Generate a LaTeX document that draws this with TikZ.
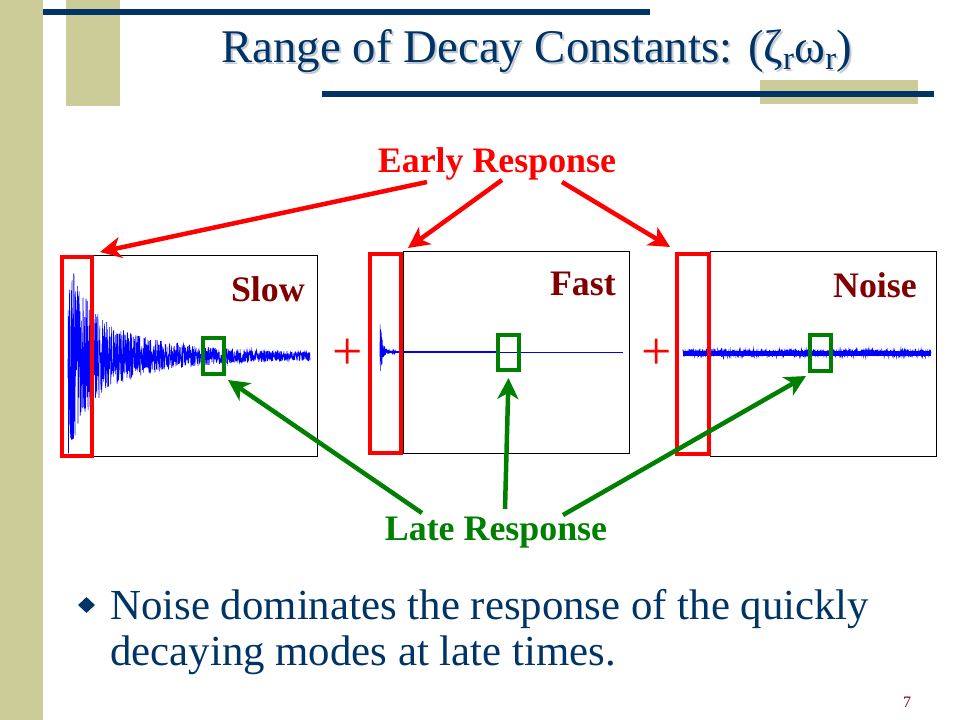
\documentclass[tikz,border=0pt]{standalone}
\usepackage{fontspec}
\setmainfont{Liberation Serif}
\usetikzlibrary{arrows.meta,shapes.geometric}
\definecolor{navy}{HTML}{003366}
\definecolor{khaki}{HTML}{CCCC99}
\definecolor{wine}{HTML}{800000}
\definecolor{leaf}{HTML}{008000}
\definecolor{shade}{HTML}{C4CAD4}
\begin{document}
\begin{tikzpicture}[x=1bp,y=-1bp,
	frame/.style={draw=black,line width=0.9bp,inner sep=0pt,outer sep=0pt,anchor=north west},
	earlybox/.style={draw=red,line width=4bp,inner sep=0pt,outer sep=0pt,anchor=north west},
	latebox/.style={draw=leaf,line width=4bp,inner sep=0pt,outer sep=0pt,anchor=north west},
	redarrow/.style={draw=red,line width=4.5bp,-{Stealth[length=21bp,width=21bp,inset=6bp]}},
	greenarrow/.style={draw=leaf,line width=4.5bp,-{Stealth[length=21bp,width=21bp,inset=6bp]}},
	signal/.style={draw=blue,line width=0.6bp},
	heading/.style={font=\fontsize{36}{40}\selectfont\bfseries,inner sep=0pt},
	tag/.style={font=\fontsize{36}{40}\selectfont\bfseries,text=wine,inner sep=0pt},
	plus/.style={font=\fontsize{54}{60}\selectfont,text=red,inner sep=0pt}]
	\useasboundingbox (0,0) rectangle (960,720);
	\fill[white] (0,0) rectangle (960,720);
	
	% slide decoration
	\fill[khaki] (0,0) rectangle (43,720);
	\fill[khaki] (66,0) rectangle (120,106);
	\fill[khaki] (760,80) rectangle (918,104);
	\fill[navy] (43,9) rectangle (650,15);
	\fill[navy] (322,91) rectangle (934,97);
	\node[font=\fontsize{47}{52}\selectfont,text=shade,anchor=base] at (539,65)
		{Range of Decay Constants: (ζ\textsubscript{r}ω\textsubscript{r})};
	\node[font=\fontsize{47}{52}\selectfont,text=navy,anchor=base] (title) at (537,63)
		{Range of Decay Constants: (ζ\textsubscript{r}ω\textsubscript{r})};
	
	% the three records
	\node[frame,minimum width=225bp,minimum height=201bp] (slowplot) at (92,255) {};
	\node[frame,minimum width=226bp,minimum height=202bp] (fastplot) at (403,251) {};
	\node[frame,minimum width=226bp,minimum height=205bp] (noiseplot) at (710,251) {};
	
	\pgfmathsetseed{7}
	\draw[signal] plot[domain=68:310,samples=1400]
		(\x,{356+(3+52*exp(-(\x-68)/18)+46*exp(-(\x-68)/70))*rand});
	\draw[signal] plot[domain=380:396,samples=160]
		(\x,{352+(0.6+32*exp(-(\x-380)/2.5))*rand});
	\draw[blue,line width=1.5bp] (395,352) -- (500,352);
	\draw[blue,line width=1bp] (500,352) -- (623,352);
	\fill[blue] (683,350.5) rectangle (931,355.5);
	\draw[signal,line width=0.8bp] plot[domain=683:931,samples=700]
		(\x,{353+3.6*rand});
	
	\node[tag,anchor=base east] (slow) at (305,301) {Slow};
	\node[tag,anchor=base east] (fast) at (616,295) {Fast};
	\node[tag,anchor=base east] (noise) at (917,297) {Noise};
	\node[plus] (plusA) at (348,354) {+};
	\node[plus] (plusB) at (657,354) {+};
	
	% early and late windows
	\node[earlybox,minimum width=30bp,minimum height=199bp] (slowE) at (62,257) {};
	\node[earlybox,minimum width=31bp,minimum height=199bp] (fastE) at (370,254) {};
	\node[earlybox,minimum width=32bp,minimum height=200bp] (noiseE) at (677,254) {};
	\node[latebox,minimum width=21bp,minimum height=36bp] (slowL) at (203,338) {};
	\node[latebox,minimum width=21bp,minimum height=35bp] (fastL) at (498,335) {};
	\node[latebox,minimum width=21bp,minimum height=36bp] (noiseL) at (810,335) {};
	
	% labels and arrows
	\node[heading,text=red,anchor=base] (early) at (497,173) {Early Response};
	\node[heading,text=leaf,anchor=base] (late) at (496,540) {Late Response};
	\coordinate (e1) at (427,182);
	\coordinate (e2) at (502,180);
	\coordinate (e3) at (562,182);
	\coordinate (l1) at (422,513);
	\coordinate (l2) at (505,509);
	\coordinate (l3) at (563,515);
	\draw[redarrow] (e1) -- ([shift={(8,-5)}]slowE.north east);
	\draw[redarrow] (e2) -- ([shift={(7,-6)}]fastE.north east);
	\draw[redarrow] (e3) -- ([shift={(-7,-7)}]noiseE.north west);
	\draw[greenarrow] (l1) -- ([shift={(4,6)}]slowL.south east);
	\draw[greenarrow] (l2) -- ([shift={(0,8)}]fastL.south);
	\draw[greenarrow] (l3) -- ([shift={(-4,5)}]noiseL.south west);
	
	% bullet text
	\node[diamond,fill=navy,inner sep=0pt,minimum width=17bp,minimum height=16bp] (bullet) at (86.5,605) {};
	\node[font=\fontsize{43}{46}\selectfont,text=navy,anchor=base west,align=left,inner sep=0pt] (point) at (110,665)
		{Noise dominates the response of the quickly\\decaying modes at late times.};
	\node[font=\fontsize{16}{18}\selectfont,text=wine] (page) at (907,702) {7};
\end{tikzpicture}
\end{document}
